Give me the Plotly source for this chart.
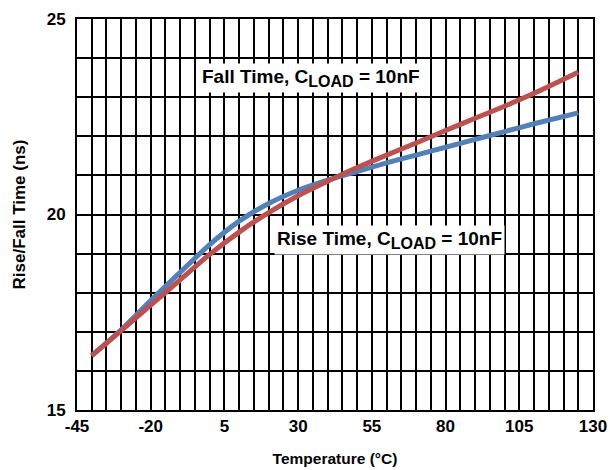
import plotly.graph_objects as go

temperature = [-40, -30, -20, -10, 0, 10, 20, 30, 40, 50, 60, 70, 80, 90, 100, 110, 125]
rise_time = [16.39, 17.05, 17.80, 18.52, 19.23, 19.83, 20.28, 20.62, 20.88, 21.10, 21.32, 21.52, 21.72, 21.92, 22.12, 22.32, 22.60]
fall_time = [16.39, 17.03, 17.68, 18.33, 18.98, 19.55, 20.05, 20.48, 20.85, 21.20, 21.52, 21.83, 22.15, 22.46, 22.77, 23.10, 23.64]

x_ticks = [-45, -20, 5, 30, 55, 80, 105, 130]
y_ticks = [15, 20, 25]

FONT = "Liberation Sans, Arial, sans-serif"

fig = go.Figure()
fig.add_trace(go.Scatter(x=temperature, y=rise_time, mode="lines",
                         line=dict(color="#4F81BD", width=5, shape="spline", smoothing=0.7),
                         name="Rise Time"))
fig.add_trace(go.Scatter(x=temperature, y=fall_time, mode="lines",
                         line=dict(color="#C0504D", width=5, shape="spline", smoothing=0.7),
                         name="Fall Time"))

label = '<b>{} Time, C<sub><span style="font-size:16px">LOAD</span></sub> = 10nF</b>'
fig.add_annotation(x=34.3, y=23.5, text=label.format("Fall"),
                   showarrow=False, bgcolor="white", font=dict(family=FONT, size=19, color="black"),
                   borderpad=2)
fig.add_annotation(x=61.1, y=19.36, text=label.format("Rise"),
                   showarrow=False, bgcolor="white", font=dict(family=FONT, size=19, color="black"),
                   borderpad=2)

fig.update_layout(
    width=610, height=470,
    margin=dict(l=77, r=17, t=19, b=60),
    paper_bgcolor="white", plot_bgcolor="white",
    showlegend=False,
    font=dict(family=FONT, size=17, color="black"),
    xaxis=dict(range=[-45, 130], tickmode="array", tickvals=x_ticks,
               ticktext=[f"<b>{v}</b>" for v in x_ticks],
               showgrid=True, gridcolor="black", gridwidth=2,
               minor=dict(tick0=-45, dtick=5, showgrid=True, gridcolor="black", gridwidth=2),
               showline=True, linecolor="black", linewidth=2, mirror=True,
               zeroline=False, ticks="", ticklen=0, automargin=False,
               tickfont=dict(size=17),
               title=dict(text="<b>Temperature (°C)</b>", font=dict(size=15.5), standoff=18)),
    yaxis=dict(range=[15, 25], tickmode="array", tickvals=y_ticks,
               ticktext=[f"<b>{v}</b>" for v in y_ticks],
               showgrid=True, gridcolor="black", gridwidth=2,
               minor=dict(tick0=15, dtick=1, showgrid=True, gridcolor="black", gridwidth=2),
               showline=True, linecolor="black", linewidth=2, mirror=True,
               zeroline=False, ticks="", ticklen=0, automargin=False,
               tickfont=dict(size=17), ticklabelstandoff=6,
               title=dict(text="<b>Rise/Fall Time (ns)</b>", font=dict(size=17), standoff=17)),
)

fig.write_html("out.html", config={"displayModeBar": False},
               post_script="document.body.style.margin='0';document.body.style.overflow='hidden';")
